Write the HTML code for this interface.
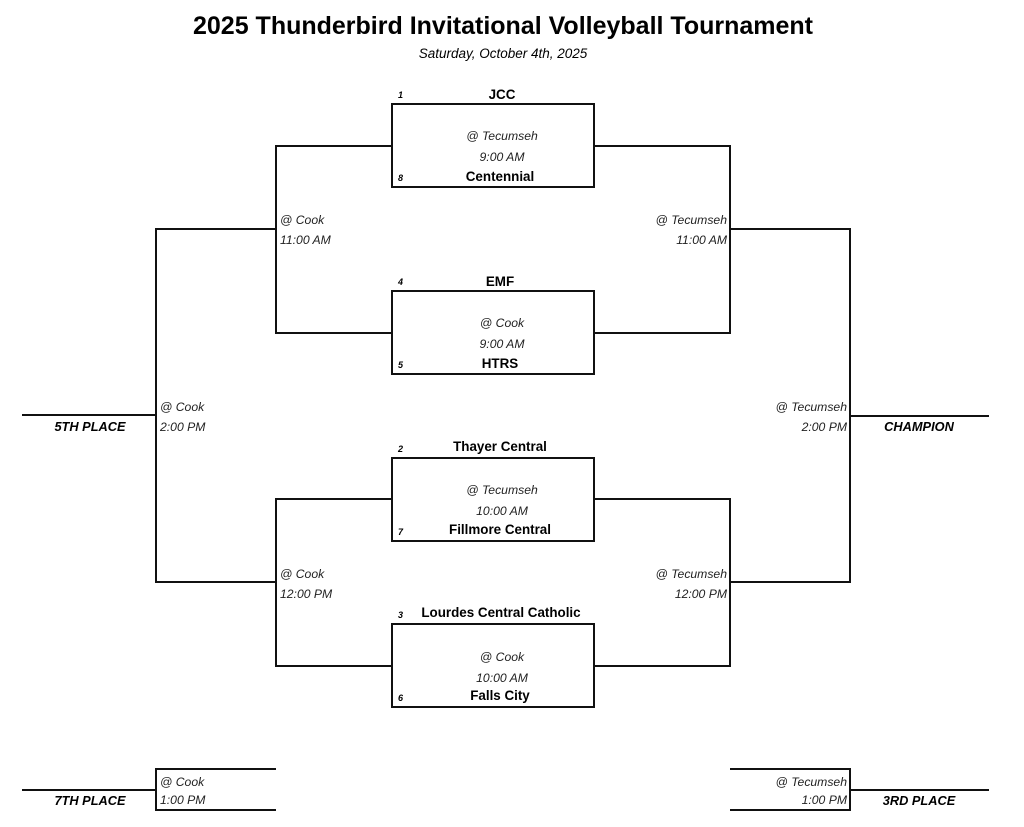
<!DOCTYPE html>
<html><head><meta charset="utf-8"><style>
html,body{margin:0;padding:0;background:#fff;}
svg{display:block;font-family:"Liberation Sans",sans-serif;}
.t{font-weight:bold;font-size:13.4px;text-anchor:middle;}
.s{font-weight:bold;font-style:italic;font-size:9px;}
.i{font-style:italic;font-size:12.2px;fill:#222;}
.ic{font-style:italic;font-size:12.2px;fill:#222;text-anchor:middle;}
.ir{font-style:italic;font-size:12.2px;fill:#222;text-anchor:end;}
.p{font-weight:bold;font-style:italic;font-size:12.8px;text-anchor:middle;}
</style></head><body>
<svg width="1024" height="827" viewBox="0 0 1024 827">
<text x="503" y="34" text-anchor="middle" font-weight="bold" font-size="25">2025 Thunderbird Invitational Volleyball Tournament</text>
<text x="503" y="58" text-anchor="middle" font-style="italic" font-size="13.5">Saturday, October 4th, 2025</text>
<g fill="none" stroke="#111" stroke-width="2">
<rect x="392" y="104" width="202" height="83"/>
<rect x="392" y="291" width="202" height="83"/>
<rect x="392" y="458" width="202" height="83"/>
<rect x="392" y="624" width="202" height="83"/>
<polyline points="392,146 276,146 276,333 392,333"/>
<polyline points="392,499 276,499 276,666 392,666"/>
<polyline points="594,146 730,146 730,333 594,333"/>
<polyline points="594,499 730,499 730,666 594,666"/>
<polyline points="276,229 156,229 156,582 276,582"/>
<polyline points="730,229 850,229 850,582 730,582"/>
<line x1="22" y1="415" x2="156" y2="415"/>
<line x1="850" y1="416" x2="989" y2="416"/>
<polyline points="276,769 156,769 156,810 276,810"/>
<line x1="22" y1="790" x2="156" y2="790"/>
<polyline points="730,769 850,769 850,810 730,810"/>
<line x1="850" y1="790" x2="989" y2="790"/>
</g>
<g>
<text class="s" x="398" y="98">1</text><text class="t" x="502" y="99">JCC</text>
<text class="ic" x="502" y="140">@ Tecumseh</text><text class="ic" x="502" y="161">9:00 AM</text>
<text class="s" x="398" y="181">8</text><text class="t" x="500" y="181">Centennial</text>

<text class="s" x="398" y="285">4</text><text class="t" x="500" y="286">EMF</text>
<text class="ic" x="502" y="327">@ Cook</text><text class="ic" x="502" y="348">9:00 AM</text>
<text class="s" x="398" y="368">5</text><text class="t" x="500" y="368">HTRS</text>

<text class="s" x="398" y="452">2</text><text class="t" x="500" y="451">Thayer Central</text>
<text class="ic" x="502" y="494">@ Tecumseh</text><text class="ic" x="502" y="515">10:00 AM</text>
<text class="s" x="398" y="535">7</text><text class="t" x="500" y="534">Fillmore Central</text>

<text class="s" x="398" y="618">3</text><text class="t" x="501" y="617">Lourdes Central Catholic</text>
<text class="ic" x="502" y="661">@ Cook</text><text class="ic" x="502" y="682">10:00 AM</text>
<text class="s" x="398" y="701">6</text><text class="t" x="500" y="700">Falls City</text>

<text class="i" x="280" y="224">@ Cook</text><text class="i" x="280" y="244">11:00 AM</text>
<text class="i" x="280" y="578">@ Cook</text><text class="i" x="280" y="598">12:00 PM</text>
<text class="ir" x="727" y="224">@ Tecumseh</text><text class="ir" x="727" y="244">11:00 AM</text>
<text class="ir" x="727" y="578">@ Tecumseh</text><text class="ir" x="727" y="598">12:00 PM</text>
<text class="i" x="160" y="411">@ Cook</text><text class="i" x="160" y="431">2:00 PM</text>
<text class="ir" x="847" y="411">@ Tecumseh</text><text class="ir" x="847" y="431">2:00 PM</text>
<text class="p" x="90" y="431">5TH PLACE</text>
<text class="p" x="919" y="431">CHAMPION</text>
<text class="i" x="160" y="786">@ Cook</text><text class="i" x="160" y="804">1:00 PM</text>
<text class="ir" x="847" y="786">@ Tecumseh</text><text class="ir" x="847" y="804">1:00 PM</text>
<text class="p" x="90" y="805">7TH PLACE</text>
<text class="p" x="919" y="805">3RD PLACE</text>
</g>
</svg>
</body></html>
